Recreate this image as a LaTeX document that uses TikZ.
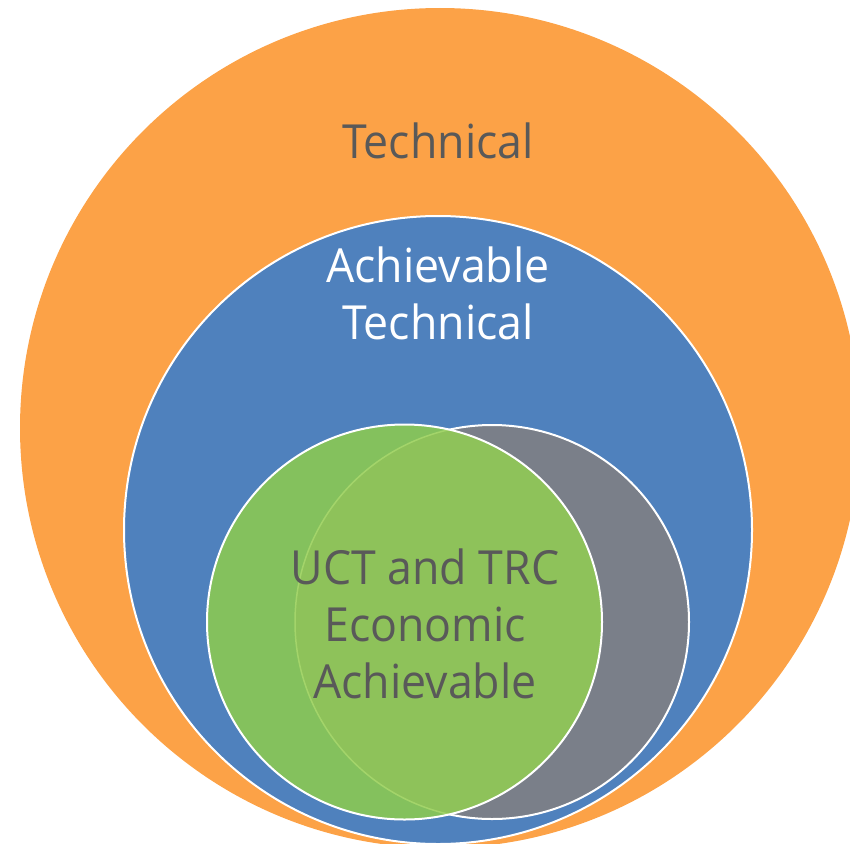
\documentclass[tikz,border=0pt]{standalone}
\usepackage{fontspec}
\setmainfont[FakeStretch=0.95]{Open Sans}
\definecolor{orangeC}{HTML}{FCA247}
\definecolor{blueC}{HTML}{4F81BD}
\definecolor{grayC}{HTML}{7A7F89}
\definecolor{greenA}{HTML}{84C15D}
\definecolor{greenB}{HTML}{8EC25A}
\definecolor{greenLine}{HTML}{A3D46A}
\definecolor{txtC}{HTML}{595959}
\tikzset{
  ring/.style={draw=white, line width=2pt},
  lbl/.style={align=center, font=\fontsize{47}{57}\selectfont, inner sep=0pt}
}
\begin{document}
\begin{tikzpicture}[x=1pt,y=-1pt]
\useasboundingbox (0,0) rectangle (850,843);
\clip (0,0) rectangle (850,843);
% outer orange circle
\fill[orangeC] (440,428) circle[radius=420];
% blue circle
\fill[blueC] (438,530) circle[radius=314];
\draw[ring] (438,530) circle[radius=314];
% gray circle
\fill[grayC] (492,622) circle[radius=197];
\draw[ring] (492,622) circle[radius=197];
% green circle (translucent look)
\fill[greenA] (404.5,622) circle[radius=197.5];
\begin{scope}
  \clip (404.5,622) circle[radius=197.5];
  \fill[greenB] (492,622) circle[radius=197];
  \draw[greenLine, line width=1.5pt] (492,622) circle[radius=197];
\end{scope}
\draw[ring] (404.5,622) circle[radius=197.5];
% labels
\node[lbl, text=txtC] (tech) at (438,141) {Technical};
\node[lbl, text=white] (ach) at (438,293) {Achievable\\Technical};
\node[lbl, text=txtC] (uct) at (425,624) {UCT and TRC\\Economic\\Achievable};
\end{tikzpicture}
\end{document}
